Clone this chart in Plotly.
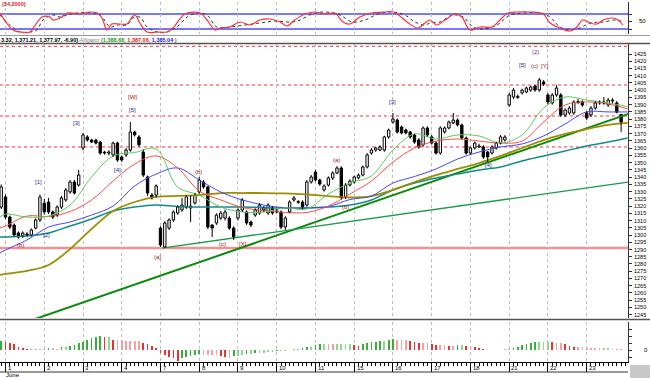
import plotly.graph_objects as go
from plotly.subplots import make_subplots

# ---------------- data ----------------
day_labels = ["1", "2", "3", "4", "7", "8", "9", "10", "11", "15", "16", "17", "18", "21", "22", "23"]
month_label = "June"
bars_per_day = 9
first_bar = -1

opens = [1319.3, 1326.3, 1312.4, 1306.9, 1301.4, 1299.3, 1300.7, 1300.0, 1304.8, 1310.4,
         1322.0, 1322.8, 1315.9, 1313.8, 1319.3, 1324.2, 1329.7, 1336.6, 1334.5,
         1360.1, 1367.7, 1365.6, 1365.6, 1364.2, 1357.3, 1356.6, 1355.3, 1363.5,
         1353.9, 1355.3, 1358.7, 1371.1, 1367.7, 1357.3, 1340.1, 1327.6, 1327.6,
         1304.8, 1291.8, 1304.8, 1310.4, 1315.2, 1317.3, 1319.3, 1318.7, 1322.1,
         1329.7, 1336.6, 1333.2, 1306.9, 1308.3, 1311.7, 1311.7, 1311.7, 1304.8,
         1311.7, 1317.3, 1315.9, 1309.0, 1313.8, 1315.2, 1317.3, 1315.2, 1318.7,
         1316.6, 1315.9, 1305.5, 1315.9, 1324.2, 1322.6, 1322.8, 1320.7, 1336.6,
         1343.5, 1338.0, 1331.1, 1334.5, 1339.4, 1342.8, 1346.3, 1326.3, 1334.5,
         1336.6, 1339.4, 1341.4, 1347.0, 1356.6, 1358.7, 1358.7, 1358.7, 1367.7,
         1378.0, 1379.4, 1374.6, 1372.5, 1371.1, 1369.1, 1365.6, 1362.2, 1373.9,
         1367.7, 1363.5, 1356.6, 1371.1, 1373.9, 1377.4, 1379.4, 1376.0, 1367.0,
         1356.6, 1360.1, 1360.8, 1360.8, 1357.3, 1356.6, 1360.1, 1363.5, 1365.6,
         1389.8, 1395.3, 1395.0, 1398.1, 1398.8, 1400.1, 1402.9, 1400.1, 1405.7,
         1396.7, 1391.2, 1396.7, 1396.7, 1382.9, 1384.3, 1384.3, 1391.5, 1391.9,
         1384.3, 1382.9, 1387.7, 1391.2, 1391.2, 1389.8, 1392.5, 1391.2, 1383.3]
highs = [1335.0, 1328.0, 1313.5, 1308.0, 1302.5, 1302.5, 1302.0, 1304.5, 1311.5, 1328.0,
         1325.0, 1325.6, 1317.0, 1320.5, 1327.0, 1332.5, 1338.0, 1338.0, 1345.0,
         1370.5, 1369.0, 1366.5, 1366.5, 1365.0, 1358.0, 1358.5, 1364.5, 1364.5,
         1355.0, 1360.0, 1378.0, 1372.0, 1369.0, 1359.0, 1341.0, 1329.0, 1335.0,
         1306.0, 1309.5, 1311.5, 1317.0, 1320.5, 1325.6, 1327.5, 1327.6, 1329.0,
         1340.0, 1338.0, 1334.0, 1307.5, 1315.0, 1316.5, 1317.5, 1313.0, 1306.0,
         1318.5, 1325.5, 1317.0, 1310.0, 1318.5, 1322.0, 1320.0, 1322.0, 1320.0,
         1318.0, 1317.0, 1313.0, 1324.0, 1327.0, 1324.0, 1324.0, 1338.0, 1341.5,
         1345.0, 1339.0, 1335.0, 1340.5, 1344.0, 1347.5, 1347.5, 1336.0, 1338.5,
         1341.0, 1342.5, 1348.0, 1356.5, 1360.0, 1361.0, 1362.0, 1368.5, 1373.5,
         1384.3, 1380.5, 1375.5, 1373.5, 1372.0, 1370.0, 1367.0, 1375.0, 1375.0,
         1369.0, 1364.5, 1375.0, 1375.0, 1379.0, 1384.3, 1380.5, 1377.0, 1368.0,
         1361.0, 1364.5, 1363.0, 1362.0, 1358.0, 1362.0, 1364.5, 1369.0, 1369.0,
         1398.0, 1401.5, 1397.0, 1401.0, 1402.5, 1403.0, 1403.5, 1408.4, 1407.0,
         1398.0, 1398.0, 1403.6, 1398.0, 1387.5, 1389.0, 1393.0, 1394.0, 1393.0,
         1385.5, 1389.0, 1392.5, 1393.0, 1395.3, 1394.5, 1394.5, 1392.5, 1383.32]
lows = [1318.0, 1311.0, 1304.0, 1299.0, 1297.5, 1298.0, 1299.0, 1299.0, 1304.0, 1309.0,
        1314.0, 1314.5, 1311.0, 1312.5, 1318.0, 1323.0, 1328.5, 1328.0, 1333.5,
        1358.5, 1364.5, 1363.5, 1362.5, 1355.5, 1355.5, 1355.0, 1354.0, 1350.5,
        1350.5, 1354.0, 1357.5, 1368.0, 1361.0, 1340.0, 1327.0, 1324.5, 1326.0,
        1291.8, 1291.0, 1303.5, 1309.0, 1314.0, 1316.0, 1318.0, 1309.0, 1321.0,
        1328.5, 1332.0, 1304.0, 1298.6, 1307.0, 1310.5, 1310.0, 1303.5, 1296.6,
        1310.0, 1316.0, 1307.0, 1305.5, 1312.5, 1314.0, 1316.0, 1314.0, 1314.0,
        1315.0, 1304.0, 1303.5, 1315.0, 1323.0, 1321.5, 1318.0, 1319.5, 1335.5,
        1337.0, 1334.0, 1330.0, 1333.5, 1338.0, 1342.0, 1324.5, 1325.0, 1333.5,
        1335.5, 1338.5, 1340.5, 1346.0, 1355.5, 1357.5, 1358.0, 1357.5, 1366.5,
        1377.0, 1370.0, 1369.5, 1369.5, 1366.5, 1363.0, 1359.5, 1361.0, 1368.0,
        1362.5, 1355.5, 1355.5, 1370.0, 1373.0, 1376.5, 1375.0, 1366.0, 1355.5,
        1355.5, 1359.0, 1360.0, 1352.5, 1350.4, 1355.5, 1359.0, 1362.5, 1364.5,
        1388.5, 1394.0, 1394.0, 1397.0, 1398.0, 1399.0, 1399.0, 1399.0, 1403.0,
        1390.5, 1390.0, 1395.5, 1381.5, 1381.5, 1383.0, 1383.0, 1390.5, 1388.5,
        1379.5, 1381.5, 1386.5, 1390.0, 1390.0, 1388.5, 1391.0, 1384.0, 1371.21]
closes = [1333.2, 1312.4, 1305.5, 1300.0, 1298.6, 1301.4, 1300.0, 1303.5, 1310.4, 1326.3,
          1316.0, 1315.9, 1312.4, 1319.3, 1325.6, 1331.1, 1336.6, 1329.0, 1341.4,
          1369.1, 1365.6, 1364.2, 1363.5, 1356.6, 1356.6, 1357.3, 1363.5, 1351.8,
          1351.8, 1358.7, 1371.1, 1369.1, 1362.2, 1341.4, 1329.0, 1325.6, 1333.9,
          1293.1, 1308.3, 1310.4, 1315.9, 1319.3, 1320.7, 1326.3, 1320.0, 1327.6,
          1338.0, 1333.2, 1305.5, 1304.8, 1313.8, 1315.2, 1315.9, 1304.8, 1298.6,
          1317.3, 1324.2, 1308.3, 1306.9, 1317.3, 1320.7, 1318.7, 1320.7, 1315.2,
          1315.9, 1305.5, 1311.7, 1322.8, 1325.6, 1323.0, 1319.3, 1336.6, 1340.1,
          1338.0, 1335.2, 1333.9, 1339.4, 1342.8, 1346.3, 1326.3, 1334.5, 1337.3,
          1340.1, 1341.4, 1347.0, 1355.3, 1358.7, 1360.1, 1360.8, 1367.7, 1372.5,
          1380.1, 1371.1, 1370.5, 1370.5, 1367.7, 1364.2, 1360.8, 1373.9, 1369.1,
          1363.5, 1356.6, 1373.9, 1373.9, 1378.0, 1379.4, 1376.0, 1367.0, 1356.6,
          1360.1, 1363.5, 1361.5, 1353.9, 1353.9, 1360.8, 1363.5, 1367.7, 1367.7,
          1396.7, 1400.1, 1395.8, 1400.1, 1401.5, 1402.2, 1400.1, 1407.1, 1404.3,
          1391.9, 1396.7, 1401.5, 1382.9, 1386.3, 1387.7, 1391.9, 1392.2, 1389.8,
          1380.8, 1387.7, 1391.2, 1391.9, 1391.9, 1393.2, 1393.2, 1384.87, 1377.97]

# Alligator + moving averages, read at sampled bar positions
ma_x = [-1.3, 0, 5, 10, 15, 20, 25, 30, 35, 40, 45, 50, 55, 60, 65, 70, 75, 80,
        85, 90, 95, 100, 105, 110, 115, 120, 125, 130, 135, 140, 144.5]
lips = [1312.4, 1314.5, 1312.4, 1313.1, 1320.7, 1340.1, 1354.6, 1357.0, 1359.4, 1333.2,
        1327.6, 1319.3, 1315.9, 1315.9, 1318.7, 1318.0, 1328.3, 1335.9, 1340.8, 1358.7,
        1369.8, 1366.3, 1369.1, 1368.4, 1363.5, 1369.1, 1387.7, 1395.3, 1393.2, 1391.2, 1388.7]
teeth = [1304.8, 1306.2, 1313.1, 1312.8, 1316.2, 1324.2, 1337.3, 1349.0, 1354.6, 1346.3,
         1330.4, 1324.2, 1319.0, 1317.0, 1315.6, 1315.6, 1320.0, 1328.3, 1337.3, 1350.4,
         1360.1, 1364.9, 1366.3, 1364.9, 1363.5, 1364.9, 1378.0, 1389.8, 1391.9, 1390.5, 1387.1]
jaw = [1287.6, 1289.7, 1296.6, 1305.5, 1309.0, 1313.8, 1320.0, 1333.9, 1342.1, 1346.3,
       1338.0, 1329.7, 1324.2, 1320.7, 1318.7, 1318.7, 1319.7, 1324.5, 1326.9, 1335.9,
       1340.4, 1345.6, 1352.5, 1357.3, 1360.8, 1362.9, 1368.4, 1376.7, 1385.0, 1385.0, 1385.0]
ma_olive = [1272.4, 1273.1, 1275.2, 1279.3, 1290.3, 1304.2, 1316.6, 1322.8, 1326.3, 1327.0,
            1327.6, 1329.0, 1329.0, 1329.0, 1328.7, 1328.0, 1326.9, 1325.9, 1326.9, 1331.1,
            1336.6, 1341.4, 1345.6, 1349.7, 1354.6, 1360.1, 1365.6, 1369.8, 1373.2, 1376.0, 1377.4]
ma_teal = [1298.6, 1298.6, 1299.3, 1301.4, 1306.2, 1311.1, 1316.6, 1319.3, 1320.7, 1319.7,
           1319.3, 1319.3, 1319.3, 1319.0, 1318.7, 1318.7, 1319.3, 1320.7, 1324.2, 1331.1,
           1335.9, 1339.4, 1342.1, 1344.9, 1347.0, 1351.1, 1354.6, 1358.0, 1361.5, 1364.2, 1367.0]

trend_x = [-1.3, 145.0]
trend_y = [1233.6, 1384.0]
support_x = [36.4, 144.6]
support_y = [1291.0, 1336.6]
fib_levels = [1430.3, 1403.6, 1382.2, 1360.8]
base_level = 1291.0
price_ticks = list(range(1245, 1426, 5))

# Stochastic (34) panel
stoch_k_x = [-1.3, 1.7, 3.4, 5.7, 6.9, 8.5, 10.3, 11.0, 12.7, 14.3, 17.3, 19.6, 21.3, 22.4, 23.6,
             24.7, 28.2, 29.4, 30.1, 31.2, 32.9, 35.2, 37.5, 38.9, 41.7, 45.2, 46.8, 48.7, 49.8, 52.1,
             54.5, 56.8, 59.1, 61.4, 63.8, 65.4, 67.2, 69.6, 71.9, 74.2, 76.5, 78.4, 80.0, 82.3, 85.1,
             88.2, 90.0, 91.6, 93.9, 95.8, 97.4, 98.6, 100.2, 102.1, 104.4, 106.0, 107.9, 110.2, 113.0,
             115.3, 116.7, 118.8, 121.8, 124.9, 126.5, 128.8, 131.1, 132.7, 134.1, 135.8, 137.4, 138.8,
             140.9, 142.3, 143.4]
stoch_k = [84, 16, 8, 8, 36, 68, 68, 56, 64, 84, 80, 88, 84, 64, 16, 40, 40, 68, 76, 44,
           8, 8, 8, 24, 80, 84, 56, 16, 24, 28, 48, 36, 56, 60, 48, 32, 56, 80, 88, 80,
           84, 48, 40, 68, 84, 88, 88, 72, 40, 24, 44, 56, 36, 56, 80, 68, 16, 28, 28, 64,
           84, 88, 88, 80, 44, 24, 12, 28, 56, 44, 40, 56, 64, 56, 36]
stoch_d_x = [-1.3, 1.0, 3.4, 5.7, 7.3, 8.7, 11.0, 12.7, 14.3, 16.6, 20.3, 22.0, 24.3, 25.9, 28.2,
             29.6, 31.2, 32.9, 35.2, 37.5, 39.8, 42.2, 44.5, 46.8, 49.1, 52.1, 55.6, 59.1, 62.6, 66.1,
             68.4, 71.2, 74.2, 77.7, 80.5, 83.5, 86.5, 89.8, 92.8, 95.1, 97.4, 98.6, 100.9, 103.9,
             106.3, 108.6, 110.9, 114.2, 117.2, 120.2, 124.2, 126.5, 128.8, 131.1, 133.4, 135.8,
             138.8, 142.0, 143.4]
stoch_d = [76, 36, 8, 8, 16, 56, 76, 68, 76, 84, 84, 76, 28, 36, 36, 64, 68, 28, 8, 8,
           28, 68, 84, 76, 28, 28, 36, 44, 52, 48, 56, 80, 88, 76, 48, 56, 80, 88, 76, 48,
           36, 44, 48, 76, 68, 28, 20, 36, 76, 84, 84, 68, 28, 16, 24, 44, 48, 56, 48]
stoch_bands = [20, 80]
stoch_title = "(34,2000)"

# Oscillator histogram (one bar per candle)
osc = [9.3, 8.3, 7.3, 6.0, 3.3, 1.7, 1.0, 0.7, 0.6, 0.8,
       1.0, 1.7, 1.8, 1.5, 2.7, 3.3, 4.0, 5.0, 6.7, 8.3,
       10.0, 11.7, 13.3, 14.0, 12.7, 13.0, 10.5, 10.0, 9.7, 9.4,
       9.2, 9.0, 8.8, 7.3, 6.0, 4.0, 1.7, -3.3, -5.0, -6.7,
       -8.3, -10.7, -8.3, -7.3, -6.0, -5.0, -4.3, -4.5, -4.8, -5.0,
       -5.3, -6.0, -7.3, -7.5, -6.0, -5.6, -5.0, -4.3, -4.0, -3.3,
       -3.0, -2.7, -2.3, -1.7, -1.0, -0.8, -0.9, 0.3, 0.7, 1.0,
       1.7, 2.7, 3.3, 5.0, 5.7, 6.0,
       5.9, 5.8, 5.9, 6.0, 6.1, 6.2, 5.0, 4.3, 5.7, 6.7,
       7.7, 8.3, 9.0, 9.3, 10.0, 10.7, 10.5, 10.3, 10.1, 9.0,
       8.3, 7.3, 7.2, 6.7, 6.0, 5.0, 4.9, 4.8, 4.0, 3.9,
       4.6, 5.0, 4.3, 4.0, 2.7, 1.7, 0.7, 0.5, 0.45, 0.4,
       0.45, 0.6, 0.7, 1.7, 3.3, 5.0, 6.0, 7.3, 8.0, 8.3,
       8.4, 8.5, 7.7, 7.3, 6.7, 6.0, 4.0, 3.3, 2.7, 2.6,
       2.3, 2.0, 1.8, 1.7, 1.6, 1.7, 1.4, 1.3, 1.1]

# Elliott wave labels: (text, bar position, price)
navy_labels = [("[1]", 7.55, 1336.6), ("[2]", 9.6, 1300.0), ("[3]", 16.6, 1377.4),
               ("[4]", 26.1, 1344.9), ("[5]", 29.4, 1386.3), ("[3]", 90.0, 1391.9),
               ("[4]", 112.1, 1348.3), ("[5]", 120.2, 1417.4)]
red_labels = [("(b)", 3.4, 1293.1), ("[W]", 29.6, 1395.3), ("(a)", 35.2, 1284.8),
              ("(b)", 44.9, 1343.5), ("(c)", 50.3, 1293.8), ("[X]", 55.2, 1293.8),
              ("(a)", 77.0, 1351.8), ("(b)", 78.9, 1319.3), ("(c)", 122.8, 1416.7),
              ("[Y]", 125.3, 1416.7)]
purple_labels = [("(2)", 123.2, 1426.4)]

header_ohlc = "3.32, 1,371.21, 1,377.97, -6.90)"
alligator_name = "Alligator"
alligator_vals = ["1,388.68", "1,387.06", "1,385.04"]

# ---------------- figure ----------------
W, H = 650, 378
PLOT_W = 628.0
PLOT_H = 363.0


def py(px):
    return (PLOT_H - px) / PLOT_H


x = [first_bar + k for k in range(len(opens))]
day_ticks = [bars_per_day * d for d in range(len(day_labels))]
x_range = [-1.28, 144.6]

fig = make_subplots(rows=3, cols=1, shared_xaxes=True, vertical_spacing=0)

# ---- stochastic ----
for lvl in stoch_bands:
    fig.add_shape(type="line", xref="x domain", yref="y", x0=0, x1=1, y0=lvl, y1=lvl,
                  line=dict(color="#4a4aff", width=1.3), layer="below")
fig.add_trace(go.Scatter(x=stoch_d_x, y=stoch_d, mode="lines",
                         line=dict(color="#333333", width=1, dash="dot", shape="spline"),
                         hoverinfo="skip"), row=1, col=1)
fig.add_trace(go.Scatter(x=stoch_k_x, y=stoch_k, mode="lines",
                         line=dict(color="#ff3333", width=1.2, shape="spline"),
                         hoverinfo="skip"), row=1, col=1)

# ---- main price panel ----
for lvl in fib_levels:
    fig.add_shape(type="line", xref="x2 domain", yref="y2", x0=0, x1=1, y0=lvl, y1=lvl,
                  line=dict(color="#ff3030", width=1, dash="dot"), layer="below")
fig.add_shape(type="line", xref="x2 domain", yref="y2", x0=0, x1=1, y0=base_level, y1=base_level,
              line=dict(color="#f59090", width=2.5), layer="below")

fig.add_trace(go.Scatter(x=trend_x, y=trend_y, mode="lines",
                         line=dict(color="#0a8a0a", width=2), hoverinfo="skip"), row=2, col=1)
fig.add_trace(go.Scatter(x=support_x, y=support_y, mode="lines",
                         line=dict(color="#1a9a4a", width=1.3), hoverinfo="skip"), row=2, col=1)
fig.add_trace(go.Scatter(x=ma_x, y=ma_teal, mode="lines",
                         line=dict(color="#138a8a", width=1.5, shape="spline"), hoverinfo="skip"), row=2, col=1)
fig.add_trace(go.Scatter(x=ma_x, y=ma_olive, mode="lines",
                         line=dict(color="#9a8f00", width=1.8, shape="spline"), hoverinfo="skip"), row=2, col=1)
fig.add_trace(go.Scatter(x=ma_x, y=jaw, mode="lines",
                         line=dict(color="#4646ff", width=1, shape="spline"), hoverinfo="skip"), row=2, col=1)
fig.add_trace(go.Scatter(x=ma_x, y=teeth, mode="lines",
                         line=dict(color="#ff4a4a", width=1, shape="spline"), hoverinfo="skip"), row=2, col=1)
fig.add_trace(go.Scatter(x=ma_x, y=lips, mode="lines",
                         line=dict(color="#5acb5a", width=1, shape="spline"), hoverinfo="skip"), row=2, col=1)

# candles: wicks + bodies
wx, wy = [], []
for xi, o, h, l, c in zip(x, opens, highs, lows, closes):
    top, bot = max(o, c), min(o, c)
    wx += [xi, xi, None, xi, xi, None]
    wy += [h, top, None, bot, l, None]
fig.add_trace(go.Scatter(x=wx, y=wy, mode="lines", line=dict(color="black", width=1),
                         hoverinfo="skip"), row=2, col=1)
body_base = [min(o, c) for o, c in zip(opens, closes)]
body_h = [max(abs(c - o), 0.5) for o, c in zip(opens, closes)]
body_col = ["white" if c >= o else "black" for o, c in zip(opens, closes)]
fig.add_trace(go.Bar(x=x, y=body_h, base=body_base, width=0.55,
                     marker=dict(color=body_col, line=dict(color="black", width=1)),
                     hoverinfo="skip"), row=2, col=1)

# ---- oscillator ----
osc_col = []
prev = None
for v in osc:
    if prev is None:
        osc_col.append("#3aae3a")
    else:
        d = v - prev
        if d >= 0:
            osc_col.append("#3aae3a" if d > 0.6 else "#8fd68f")
        else:
            osc_col.append("#e83232" if d < -0.6 else "#f4a0a0")
    prev = v
fig.add_trace(go.Bar(x=x, y=osc, width=0.4, marker=dict(color=osc_col, line=dict(width=0)),
                     hoverinfo="skip"), row=3, col=1)

# ---------------- layout ----------------
lab_font = "Liberation Sans, Arial, sans-serif"
fig.update_layout(
    width=W, height=H, margin=dict(l=0, r=22, t=0, b=15),
    paper_bgcolor="white", plot_bgcolor="white", showlegend=False,
    barmode="overlay", bargap=0, hovermode=False,
)
grid = dict(showgrid=True, gridcolor="#bdbdbd", griddash="dot", gridwidth=1,
            tickmode="array", tickvals=day_ticks, range=x_range, zeroline=False,
            rangeslider=dict(visible=False))
fig.update_xaxes(**grid)
fig.update_xaxes(showticklabels=False, ticks="", row=1, col=1)
fig.update_xaxes(showticklabels=False, ticks="", row=2, col=1)
fig.update_xaxes(showticklabels=False, ticks="outside", ticklen=9, tickcolor="black",
                 showline=True, linecolor="black", linewidth=1,
                 minor=dict(ticks="outside", ticklen=3, tickcolor="black", tickmode="linear",
                            tick0=0, dtick=1, showgrid=False),
                 row=3, col=1)

fig.update_yaxes(side="right", showgrid=False, zeroline=False, showline=True,
                 linecolor="#333333", linewidth=1, ticks="outside", ticklen=3,
                 tickcolor="#333333", showticklabels=False)
fig.update_yaxes(domain=[py(34), py(1.5)], range=[0, 130], tickmode="array",
                 tickvals=[20, 50, 80], row=1, col=1)
fig.update_yaxes(domain=[py(318), py(43)], range=[1242.7, 1432.6], tickmode="array",
                 tickvals=price_ticks, row=2, col=1)
fig.update_yaxes(domain=[py(362), py(322)], range=[-12, 28], tickmode="array",
                 tickvals=[-7, 0, 7, 14, 21], row=3, col=1)

# right-hand tick labels (drawn as text so they fit the narrow margin)
tick_x = 633 / PLOT_W
for v in price_ticks:
    fig.add_annotation(x=tick_x, y=v, xref="paper", yref="y2", text=str(v), showarrow=False,
                       xanchor="left", yanchor="middle", borderpad=0,
                       font=dict(family=lab_font, size=5.5, color="black"))
fig.add_annotation(x=638 / PLOT_W, y=50, xref="paper", yref="y", text="50", showarrow=False,
                   xanchor="left", yanchor="middle", borderpad=0,
                   font=dict(family=lab_font, size=6, color="black"))
fig.add_annotation(x=643 / PLOT_W, y=0, xref="paper", yref="y3", text="0", showarrow=False,
                   xanchor="left", yanchor="middle", borderpad=0,
                   font=dict(family=lab_font, size=6, color="black"))

# separators
for ypx, col, w, xe in [(35.5, "#9a9a9a", 1, 650), (43.5, "#555555", 1.5, 650),
                        (319.5, "#555555", 1.5, 650), (372, "#333333", 1, 628)]:
    fig.add_shape(type="line", xref="paper", yref="paper", x0=0, x1=xe / PLOT_W,
                  y0=py(ypx), y1=py(ypx), line=dict(color=col, width=w))
fig.add_shape(type="rect", xref="paper", yref="paper", x0=630 / PLOT_W, x1=650 / PLOT_W,
              y0=py(378), y1=py(365), fillcolor="#c8c8c8", line=dict(width=0))

# wave labels
for txt, xi, yv in navy_labels:
    fig.add_annotation(x=xi, y=yv, xref="x2", yref="y2", text=txt, showarrow=False,
                       font=dict(family=lab_font, size=6, color="#1c1c8e"))
for txt, xi, yv in red_labels:
    fig.add_annotation(x=xi, y=yv, xref="x2", yref="y2", text=txt, showarrow=False,
                       font=dict(family=lab_font, size=6, color="#a01414"))
for txt, xi, yv in purple_labels:
    fig.add_annotation(x=xi, y=yv, xref="x2", yref="y2", text=txt, showarrow=False,
                       font=dict(family=lab_font, size=6, color="#7a1a8a"))

header = (f"<b>{header_ohlc}</b> <i><span style='color:#808080'>{alligator_name}</span></i> ("
          f"<span style='color:#1a9a1a'><b>{alligator_vals[0]}</b></span>, "
          f"<span style='color:#e01818'><b>{alligator_vals[1]}</b></span>, "
          f"<span style='color:#1818e0'><b>{alligator_vals[2]}</b></span> )")
fig.add_annotation(x=0, y=py(39.5), xref="paper", yref="paper", text=header, showarrow=False,
                   xanchor="left", yanchor="middle", borderpad=0,
                   font=dict(family=lab_font, size=5.5, color="black"))
fig.add_annotation(x=0.002, y=py(4), xref="paper", yref="paper", text=f"<b>{stoch_title}</b>",
                   showarrow=False, xanchor="left", yanchor="middle", borderpad=0,
                   font=dict(family=lab_font, size=5.5, color="#e01818"))

for tv, lab in zip(day_ticks, day_labels):
    fig.add_annotation(x=tv + 0.3, y=py(367.5), xref="x3", yref="paper", text=lab, showarrow=False,
                       xanchor="left", yanchor="middle", borderpad=0,
                       font=dict(family=lab_font, size=6, color="black"))
fig.add_annotation(x=5 / PLOT_W, y=py(375), xref="paper", yref="paper", text=month_label,
                   showarrow=False, xanchor="left", yanchor="middle", borderpad=0,
                   font=dict(family=lab_font, size=6, color="black"))

fig.write_html("out.html", config={"displayModeBar": False, "staticPlot": True},
               post_script="document.body.style.margin='0';document.body.style.padding='0';"
                           "document.body.style.overflow='hidden';")
